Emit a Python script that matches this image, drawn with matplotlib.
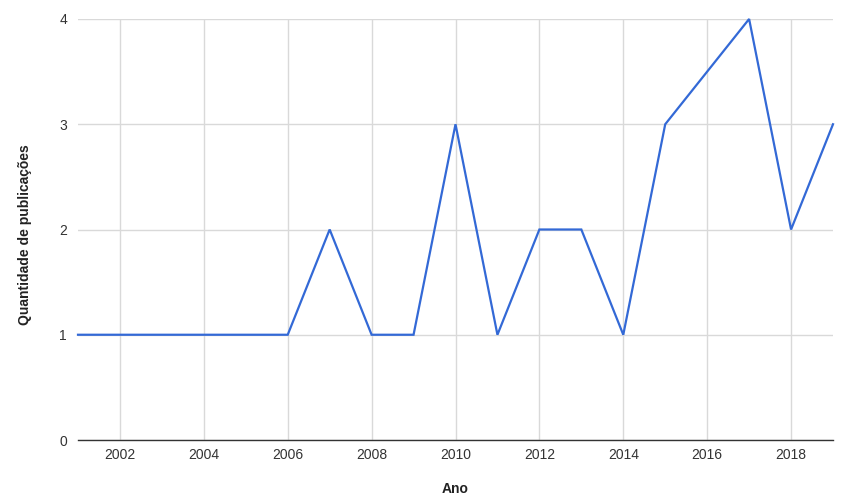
import matplotlib.pyplot as plt

years = [2001, 2002, 2003, 2004, 2005, 2006, 2007, 2008, 2009, 2010,
         2011, 2012, 2013, 2014, 2015, 2017, 2018, 2019]
counts = [1, 1, 1, 1, 1, 1, 2, 1, 1, 3, 1, 2, 2, 1, 3, 4, 2, 3]
xticks = [2002, 2004, 2006, 2008, 2010, 2012, 2014, 2016, 2018]
yticks = [0, 1, 2, 3, 4]

plt.rcParams['font.family'] = ['Liberation Sans', 'DejaVu Sans']

fig = plt.figure(figsize=(8.5, 5.04), dpi=100)
ax = fig.add_axes([78 / 850, 64 / 504, 755 / 850, 421 / 504])

ax.plot(years, counts, color='#3369d6', linewidth=1.6, solid_joinstyle='miter', clip_on=False)

ax.set_xlim(2001, 2019)
ax.set_ylim(0, 4)
ax.set_xticks(xticks)
ax.set_yticks(yticks)
ax.grid(True, color='#d9d9d9', linewidth=1)
ax.set_axisbelow(True)

for s in ['top', 'right', 'left']:
    ax.spines[s].set_visible(False)
ax.spines['bottom'].set_color('#333333')
ax.spines['bottom'].set_linewidth(1)
ax.tick_params(length=0, labelsize=10, colors='#333333', pad=6)
ax.tick_params(axis='y', pad=8)

# axis titles placed where the reference has them
fig.text(455 / 850, 1 - 489 / 504, 'Ano', fontsize=10, fontweight='bold',
         color='#222222', ha='center', va='center')
fig.text(25 / 850, 1 - 235 / 504, 'Quantidade de publicações', fontsize=10,
         fontweight='bold', color='#222222', ha='center', va='center', rotation=90)

fig.savefig('out.png', dpi=100)
